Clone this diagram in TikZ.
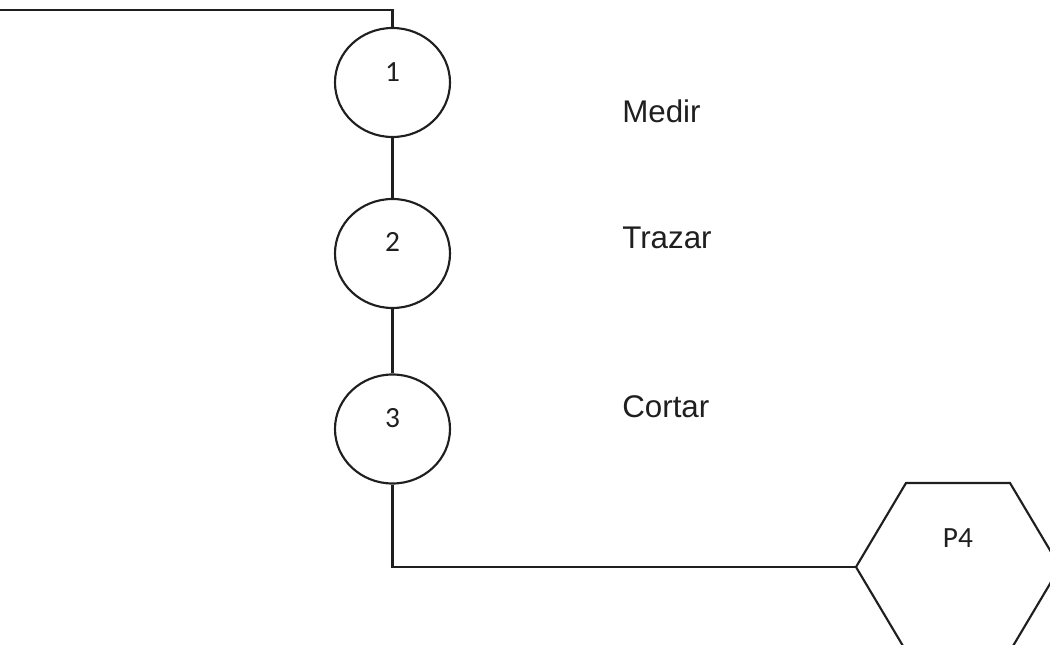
\documentclass[tikz,border=0pt]{standalone}
\usepackage{fontspec}
\setmainfont{Liberation Sans}
\newfontfamily\calibrif{Carlito}
\usetikzlibrary{shapes.geometric}
\tikzset{
  ln/.style={line width=1.6pt, color=black!88},
  stepcircle/.style={ellipse, draw=black!88, line width=1.6pt, minimum width=86.25pt, minimum height=81.75pt, inner sep=0pt},
  numtext/.style={font=\calibrif\fontsize{22}{26}\selectfont, text=black!88},
  labtext/.style={font=\fontsize{23.5}{28}\selectfont, text=black!88, anchor=base west, inner sep=0pt},
}
\begin{document}
\begin{tikzpicture}[x=0.75pt,y=-0.75pt]
\useasboundingbox (0,0) rectangle (1050,645);
\clip (0,0) rectangle (1050,645);
\node[stepcircle] (c1) at (392.5,82.5) {};
\node[stepcircle] (c2) at (392.5,253.5) {};
\node[stepcircle] (c3) at (392.5,429) {};
\node[numtext] (n1) at (392.5,72.5) {1};
\node[numtext] (n2) at (392.5,242) {2};
\node[numtext] (n3) at (392.5,418.5) {3};
\node[labtext] (l1) at (622,123) {Medir};
\node[labtext] (l2) at (622,249) {Trazar};
\node[labtext] (l3) at (622,417) {Cortar};
\coordinate (start) at (0,10);
\coordinate (hL) at (856,567);
\coordinate (hTL) at (906,483);
\coordinate (hTR) at (1010,483);
\coordinate (hR) at (1060,567);
\coordinate (hBR) at (1010,651);
\coordinate (hBL) at (906,651);
\draw[ln] (hL) -- (hTL) -- (hTR) -- (hR) -- (hBR) -- (hBL) -- cycle;
\node[numtext] (p4) at (958,538) {P4};
\draw[ln] (start) -| (c1.north);
\draw[ln] (c1.south) -- (c2.north);
\draw[ln] (c2.south) -- (c3.north);
\draw[ln] (c3.south) |- (hL);
\end{tikzpicture}
\end{document}
